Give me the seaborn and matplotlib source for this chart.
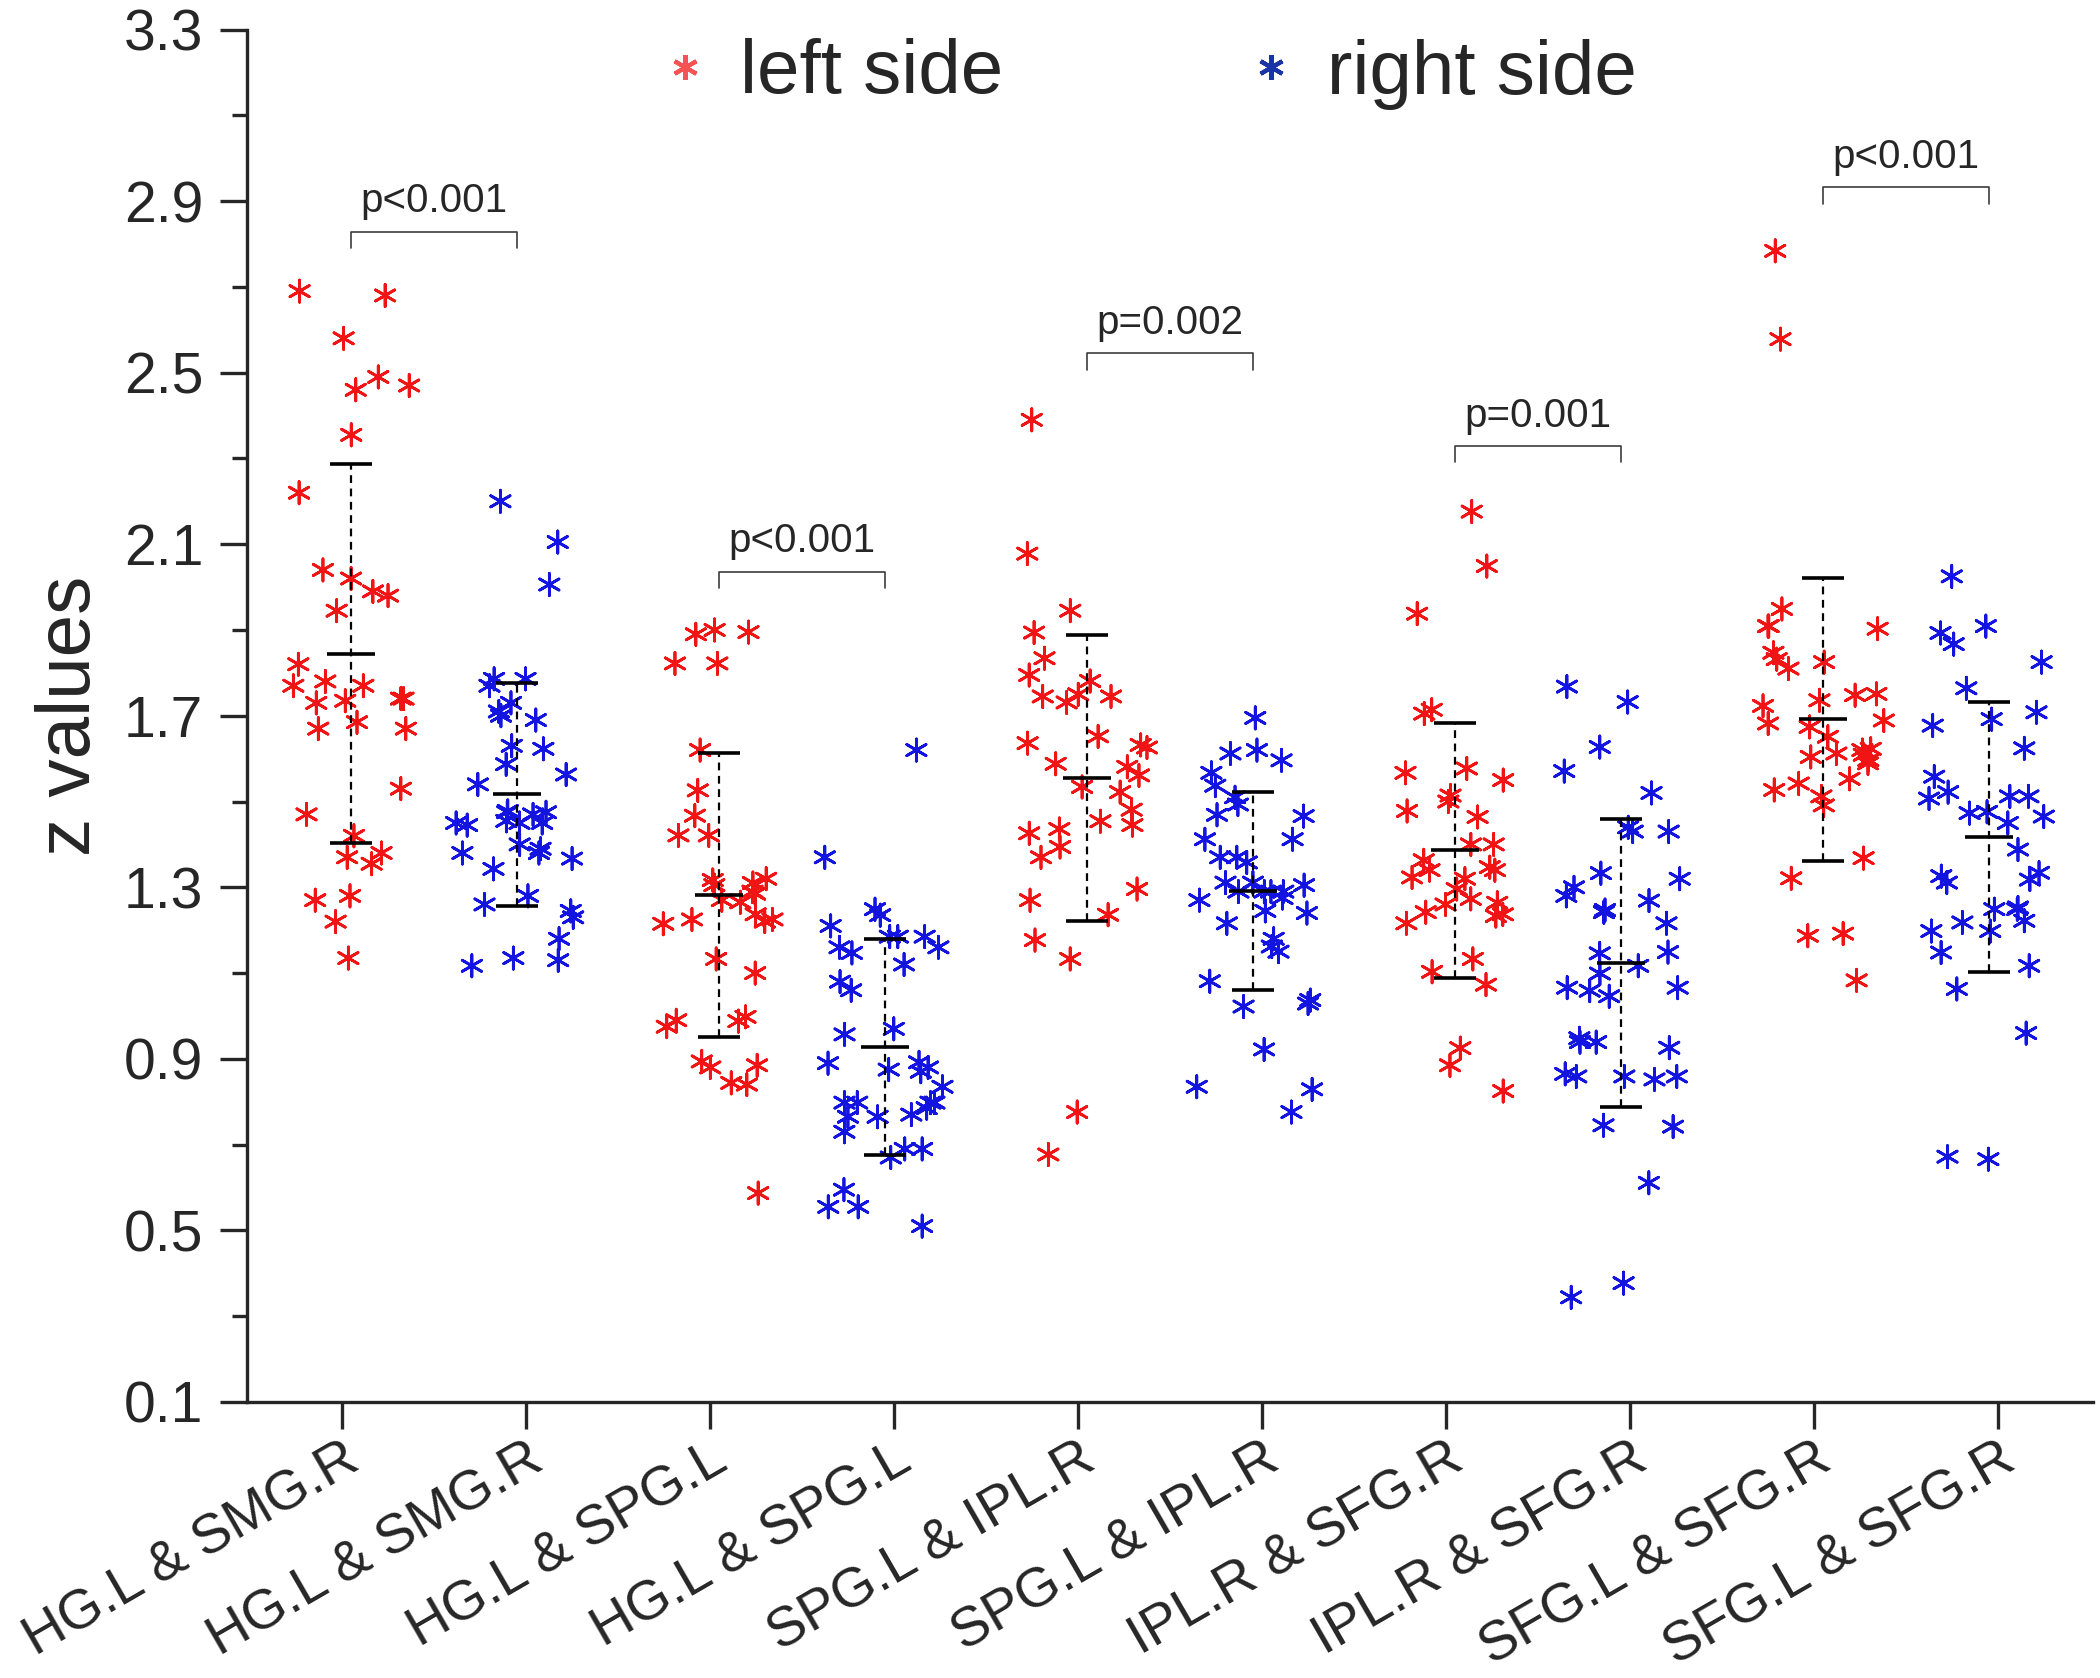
import numpy as np
import pandas as pd
import seaborn as sns
import matplotlib.pyplot as plt
from matplotlib.lines import Line2D
from matplotlib.ticker import AutoMinorLocator


# pair labels on the x axis (each pair shown for left and right side)
pair_labels = ['HG.L & SMG.R', 'HG.L & SMG.R', 'HG.L & SPG.L', 'HG.L & SPG.L',
               'SPG.L & IPL.R', 'SPG.L & IPL.R', 'IPL.R & SFG.R', 'IPL.R & SFG.R',
               'SFG.L & SFG.R', 'SFG.L & SFG.R']
sides = ['left', 'right'] * 5

# z values
hg_smg_left = [2.69, 2.68, 2.58, 2.49, 2.47, 2.46, 2.355, 2.22, 2.04, 2.02, 1.99, 1.98,
               1.945, 1.82, 1.78, 1.74, 1.73, 1.735, 1.74, 1.77, 1.77, 1.67, 1.67, 1.685,
               1.53, 1.47, 1.42, 1.38, 1.355, 1.37, 1.27, 1.28, 1.22, 1.135]
hg_smg_right = [2.20, 2.105, 2.006, 1.786, 1.786, 1.77, 1.73, 1.71, 1.69, 1.70, 1.63, 1.623,
                1.587, 1.563, 1.54, 1.475, 1.475, 1.478, 1.47, 1.45, 1.455, 1.45, 1.445, 1.45,
                1.40, 1.39, 1.367, 1.38, 1.38, 1.343, 1.28, 1.26, 1.23, 1.245, 1.18, 1.135,
                1.13, 1.117]
hg_spg_left = [1.89, 1.90, 1.895, 1.822, 1.822, 1.62, 1.526, 1.467, 1.421, 1.421, 1.317, 1.29,
               1.285, 1.27, 1.305, 1.31, 1.32, 1.265, 1.237, 1.225, 1.215, 1.22, 1.225, 1.133,
               1.10, 0.998, 0.99, 0.988, 0.975, 0.894, 0.885, 0.88, 0.844, 0.84, 0.587]
hg_spg_right = [1.62, 1.37, 1.249, 1.235, 1.21, 1.185, 1.185, 1.185, 1.16, 1.16, 1.147, 1.12,
                1.08, 1.06, 0.97, 0.957, 0.892, 0.88, 0.89, 0.875, 0.87, 0.835, 0.798, 0.798,
                0.798, 0.798, 0.765, 0.765, 0.77, 0.785, 0.73, 0.69, 0.69, 0.67, 0.595, 0.555,
                0.555, 0.51]
spg_ipl_left = [2.39, 2.078, 1.945, 1.894, 1.834, 1.795, 1.781, 1.745, 1.75, 1.745, 1.731,
                1.652, 1.632, 1.626, 1.588, 1.636, 1.581, 1.561, 1.534, 1.522, 1.481, 1.454,
                1.445, 1.426, 1.436, 1.394, 1.37, 1.296, 1.27, 1.236, 1.177, 1.133, 0.776, 0.677]
spg_ipl_right = [1.695, 1.62, 1.612, 1.596, 1.567, 1.537, 1.51, 1.493, 1.469, 1.466, 1.412,
                 1.412, 1.37, 1.37, 1.358, 1.311, 1.311, 1.305, 1.29, 1.29, 1.29, 1.29, 1.27,
                 1.275, 1.24, 1.245, 1.216, 1.18, 1.15, 1.162, 1.081, 1.037, 1.029, 1.022,
                 0.922, 0.835, 0.829, 0.776]
ipl_sfg_left = [2.176, 2.049, 1.938, 1.714, 1.705, 1.577, 1.567, 1.55, 1.514, 1.50, 1.478,
                1.464, 1.40, 1.40, 1.363, 1.347, 1.323, 1.34, 1.32, 1.34, 1.296, 1.273, 1.242,
                1.264, 1.26, 1.237, 1.233, 1.216, 1.133, 1.103, 1.073, 0.925, 0.885, 0.825]
ipl_sfg_right = [1.768, 1.732, 1.627, 1.571, 1.52, 1.44, 1.43, 1.43, 1.333, 1.32, 1.30, 1.28,
                 1.269, 1.247, 1.242, 1.216, 1.146, 1.149, 1.117, 1.099, 1.066, 1.059, 1.066,
                 1.046, 0.948, 0.939, 0.926, 0.939, 0.852, 0.859, 0.859, 0.859, 0.865, 0.742,
                 0.745, 0.611, 0.377, 0.344]
sfg_sfg_left = [2.784, 2.578, 1.949, 1.909, 1.909, 1.903, 1.847, 1.825, 1.832, 1.81, 1.748,
                1.751, 1.736, 1.723, 1.689, 1.682, 1.674, 1.651, 1.623, 1.62, 1.612, 1.604,
                1.609, 1.589, 1.597, 1.553, 1.527, 1.542, 1.512, 1.491, 1.368, 1.321, 1.192,
                1.187, 1.083]
sfg_sfg_right = [2.025, 1.909, 1.893, 1.867, 1.825, 1.764, 1.708, 1.692, 1.677, 1.624, 1.558,
                 1.512, 1.507, 1.512, 1.522, 1.473, 1.465, 1.476, 1.45, 1.388, 1.326, 1.318,
                 1.334, 1.311, 1.249, 1.218, 1.253, 1.198, 1.198, 1.222, 1.249, 1.148, 1.117,
                 1.063, 0.96, 0.666, 0.672]

groups = [hg_smg_left, hg_smg_right, hg_spg_left, hg_spg_right, spg_ipl_left,
          spg_ipl_right, ipl_sfg_left, ipl_sfg_right, sfg_sfg_left, sfg_sfg_right]

# mean and SD bars as drawn in the figure
mean_z = [1.845, 1.517, 1.283, 0.927, 1.555, 1.292, 1.386, 1.124, 1.692, 1.417]
sd_z = [0.4415, 0.2605, 0.331, 0.2515, 0.3325, 0.231, 0.2965, 0.3355, 0.3295, 0.3155]

# significance brackets
p_texts = ['p<0.001', 'p<0.001', 'p=0.002', 'p=0.001', 'p<0.001']
bracket_z = [2.829, 2.036, 2.545, 2.329, 2.932]

ytick_vals = [0.1, 0.5, 0.9, 1.3, 1.7, 2.1, 2.5, 2.9, 3.3]

side_colors = {'left': '#f01414', 'right': '#1414e0'}
legend_colors = {'left': '#f55454', 'right': '#1a34a8'}
shift = {'left': 0.05, 'right': -0.05}

rows = []
for i, vals in enumerate(groups):
    for v in vals:
        rows.append({'pos': i + shift[sides[i]], 'side': sides[i], 'z': v})
df = pd.DataFrame(rows)

sns.set_style('ticks')
plt.rcParams['font.family'] = ['Liberation Sans', 'DejaVu Sans']

fig = plt.figure(figsize=(21, 16.78), dpi=100)
ax = fig.add_axes([0.1176, 0.1645, 0.879, 0.8179])

np.random.seed(7)
sns.stripplot(data=df, x='pos', y='z', hue='side', palette=side_colors,
              native_scale=True, orient='x', jitter=0.367, marker=(6, 2, 0),
              size=16, linewidth=2.0, legend=False, ax=ax, zorder=3)

# mean line, SD caps and dashed SD range
for i in range(len(groups)):
    c = i + shift[sides[i]]
    m, s = mean_z[i], sd_z[i]
    ax.vlines(c, m - s, m + s, color='black', lw=1.6, linestyles=(0, (3.5, 2.5)), zorder=4)
    ax.hlines(m, c - 0.13, c + 0.13, color='black', lw=2.6, zorder=4)
    ax.hlines([m - s, m + s], c - 0.115, c + 0.115, color='black', lw=2.6, zorder=4)

for k in range(len(p_texts)):
    x0 = 2 * k + shift['left']
    x1 = 2 * k + 1 + shift['right']
    y = bracket_z[k]
    ax.plot([x0, x0, x1, x1], [y - 0.038, y, y, y - 0.038], color='#3c3c3c', lw=1.2)
    ax.text((x0 + x1) / 2, y + 0.045, p_texts[k], ha='center', va='baseline', fontsize=29)

ax.set_xlim(-0.516, 9.516)
ax.set_ylim(0.1, 3.3)
ax.set_xticks(range(len(pair_labels)))
ax.set_xticklabels(pair_labels, rotation=30, ha='right', va='top', rotation_mode='anchor',
                   fontsize=40)
ax.set_yticks(ytick_vals, labels=[f'{v:.1f}' for v in ytick_vals])
ax.yaxis.set_minor_locator(AutoMinorLocator(2))
ax.tick_params(axis='y', which='major', labelsize=41, pad=12)
ax.tick_params(axis='x', which='major', pad=3)
ax.tick_params(axis='both', which='major', direction='out', length=19.5, width=2.4)
ax.tick_params(axis='y', which='minor', direction='out', length=10.8, width=2.4)
ax.tick_params(axis='x', which='minor', bottom=False)
sns.despine(ax=ax)
for sp in ['left', 'bottom']:
    ax.spines[sp].set_linewidth(2.4)
ax.set_xlabel('')
ax.set_ylabel('z values', fontsize=55)
ax.yaxis.set_label_coords(-0.0764, 0.5)

handles = [Line2D([], [], ls='', marker=(6, 2, 0), markersize=18, markeredgewidth=3.0,
                  color=legend_colors[s]) for s in ['left', 'right']]
fig.legend(handles, ['left side', 'right side'], loc='center left',
           bbox_to_anchor=(654 / 2100, 1 - 74 / 1678), ncol=2, frameon=False,
           fontsize=55, handlelength=0.8, handletextpad=0.33, columnspacing=3.1,
           borderpad=0, borderaxespad=0)

fig.savefig('out.png', dpi=100)
